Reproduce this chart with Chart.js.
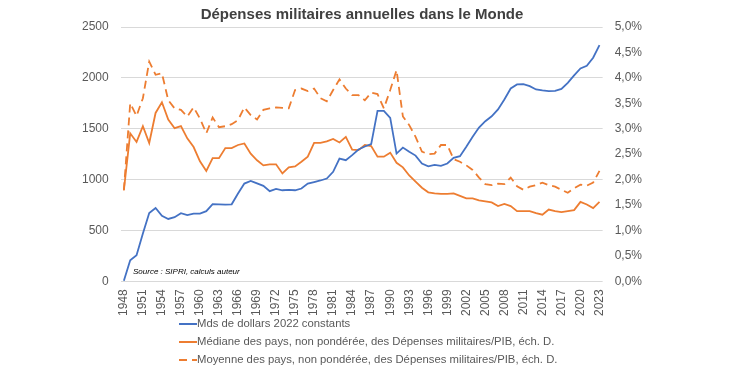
<!DOCTYPE html>
<html>
<head>
<meta charset="utf-8">
<script src="https://cdn.jsdelivr.net/npm/chart.js@4/dist/chart.umd.min.js"></script>
<style>
  html, body { margin: 0; padding: 0; background: #fff; }
  #wrap { width: 730px; height: 370px; position: relative; }
</style>
</head>
<body>
<div id="wrap"><canvas id="chart" width="730" height="370"></canvas></div>
<script>
// ─── Data ─────────────────────────────────────────────────────────────────────
const years = [];
for (let y = 1948; y <= 2023; y++) years.push(String(y));

// Mds de dollars 2022 constants (axe gauche)
const depensesMds = [
    5, 207, 256, 469, 672, 721, 643, 613, 630, 669,
    650, 666, 666, 689, 758, 757, 754, 757, 863, 961,
    987, 963, 938, 886, 908, 895, 899, 895, 912, 961,
    976, 991, 1010, 1076, 1207, 1191, 1240, 1296, 1325, 1348,
    1676, 1676, 1607, 1256, 1315, 1273, 1236, 1158, 1131, 1145,
    1135, 1158, 1213, 1230, 1322, 1420, 1512, 1574, 1622, 1690,
    1788, 1896, 1935, 1938, 1919, 1886, 1876, 1870, 1873, 1892,
    1951, 2024, 2093, 2119, 2198, 2322
];

// Médiane des pays, % du PIB (axe droit)
const medianePib = [
    1.79, 2.91, 2.74, 3.05, 2.72, 3.31, 3.52, 3.18, 3.01, 3.05,
    2.81, 2.64, 2.36, 2.17, 2.42, 2.42, 2.62, 2.62, 2.68, 2.71,
    2.51, 2.38, 2.28, 2.30, 2.30, 2.12, 2.24, 2.26, 2.35, 2.45,
    2.72, 2.72, 2.75, 2.80, 2.73, 2.84, 2.59, 2.58, 2.68, 2.66,
    2.45, 2.45, 2.53, 2.33, 2.24, 2.08, 1.96, 1.84, 1.75, 1.73,
    1.72, 1.72, 1.73, 1.68, 1.63, 1.63, 1.59, 1.57, 1.55, 1.48,
    1.52, 1.48, 1.38, 1.38, 1.38, 1.34, 1.31, 1.41, 1.38, 1.36,
    1.38, 1.40, 1.56, 1.51, 1.44, 1.56
];

// Moyenne des pays, % du PIB (axe droit)
const moyennePib = [
    1.79, 3.50, 3.25, 3.60, 4.32, 4.06, 4.09, 3.56, 3.40, 3.37,
    3.24, 3.42, 3.20, 2.91, 3.22, 3.03, 3.05, 3.09, 3.17, 3.42,
    3.27, 3.18, 3.37, 3.40, 3.42, 3.41, 3.40, 3.76, 3.79, 3.74,
    3.79, 3.60, 3.54, 3.76, 3.97, 3.79, 3.66, 3.66, 3.56, 3.71,
    3.68, 3.40, 3.76, 4.15, 3.24, 3.07, 2.84, 2.55, 2.50, 2.51,
    2.68, 2.68, 2.40, 2.35, 2.28, 2.19, 2.04, 1.91, 1.89, 1.92,
    1.91, 2.04, 1.87, 1.80, 1.86, 1.89, 1.94, 1.89, 1.86, 1.80,
    1.74, 1.83, 1.90, 1.88, 1.94, 2.17
];

const seriesLabels = [
    'Mds de dollars 2022 constants',
    'Médiane des pays, non pondérée, des Dépenses militaires/PIB, éch. D.',
    'Moyenne des pays, non pondérée, des Dépenses militaires/PIB, éch. D.'
];

const BLUE = '#4472C4';
const ORANGE = '#ED7D31';
const FONT = "'Liberation Sans', Arial, sans-serif";
const TXT = '#595959';

// ─── Plugins ──────────────────────────────────────────────────────────────────
const extras = {
    id: 'extras',
    afterDraw(chart) {
        const ctx = chart.ctx;
        ctx.save();
        // source
        ctx.font = `italic 8px ${FONT}`;
        ctx.fillStyle = '#000';
        ctx.textBaseline = 'middle';
        ctx.fillText('Source : SIPRI, calculs auteur', 133, 272);

        // legend
        const styles = [
            { color: BLUE, dash: [] },
            { color: ORANGE, dash: [] },
            { color: ORANGE, dash: [8, 5] }
        ];
        const rows = [324, 342, 360];
        ctx.font = `11.3px ${FONT}`;
        styles.forEach((s, i) => {
            ctx.strokeStyle = s.color;
            ctx.lineWidth = 2;
            ctx.setLineDash(s.dash);
            ctx.beginPath();
            ctx.moveTo(179, rows[i]);
            ctx.lineTo(197, rows[i]);
            ctx.stroke();
            ctx.fillStyle = TXT;
            ctx.fillText(seriesLabels[i], 197, rows[i]);
        });
        ctx.restore();
    }
};

// ─── Chart ────────────────────────────────────────────────────────────────────
new Chart(document.getElementById('chart').getContext('2d'), {
    type: 'line',
    data: {
        labels: years,
        datasets: [
            { label: seriesLabels[0], data: depensesMds, yAxisID: 'y', borderColor: BLUE, borderWidth: 1.8, pointRadius: 0, tension: 0 },
            { label: seriesLabels[1], data: medianePib, yAxisID: 'y1', borderColor: ORANGE, borderWidth: 1.8, pointRadius: 0, tension: 0 },
            { label: seriesLabels[2], data: moyennePib, yAxisID: 'y1', borderColor: ORANGE, borderWidth: 1.8, borderDash: [8, 5], pointRadius: 0, tension: 0 }
        ]
    },
    options: {
        responsive: false,
        animation: false,
        layout: { padding: { left: 70, right: 76, top: 0, bottom: 46 } },
        plugins: {
            legend: { display: false },
            tooltip: { enabled: false },
            title: {
                display: true,
                text: 'Dépenses militaires annuelles dans le Monde',
                color: '#404040',
                font: { family: FONT, size: 15, weight: 'bold' },
                padding: { top: 6, bottom: 3 }
            }
        },
        scales: {
            x: {
                offset: true,
                grid: { display: false, drawTicks: false },
                border: { display: false },
                ticks: {
                    autoSkip: false, minRotation: 90, maxRotation: 90, padding: 8,
                    color: TXT, font: { family: FONT, size: 12 },
                    callback: function (v, i) { return (i % 3 === 0) ? this.getLabelForValue(v) : null; }
                }
            },
            y: {
                position: 'left', min: 0, max: 2500,
                grid: { color: '#d9d9d9', drawTicks: false },
                border: { display: false },
                ticks: {
                    stepSize: 500, padding: 12, color: TXT, font: { family: FONT, size: 12 },
                    callback: v => String(v)
                }
            },
            y1: {
                position: 'right', min: 0, max: 5,
                grid: { display: false, drawTicks: false },
                border: { display: false },
                ticks: {
                    stepSize: 0.5, padding: 12, color: TXT, font: { family: FONT, size: 12 },
                    callback: v => v.toFixed(1).replace('.', ',') + '%'
                }
            }
        }
    },
    plugins: [extras]
});
</script>
</body>
</html>
